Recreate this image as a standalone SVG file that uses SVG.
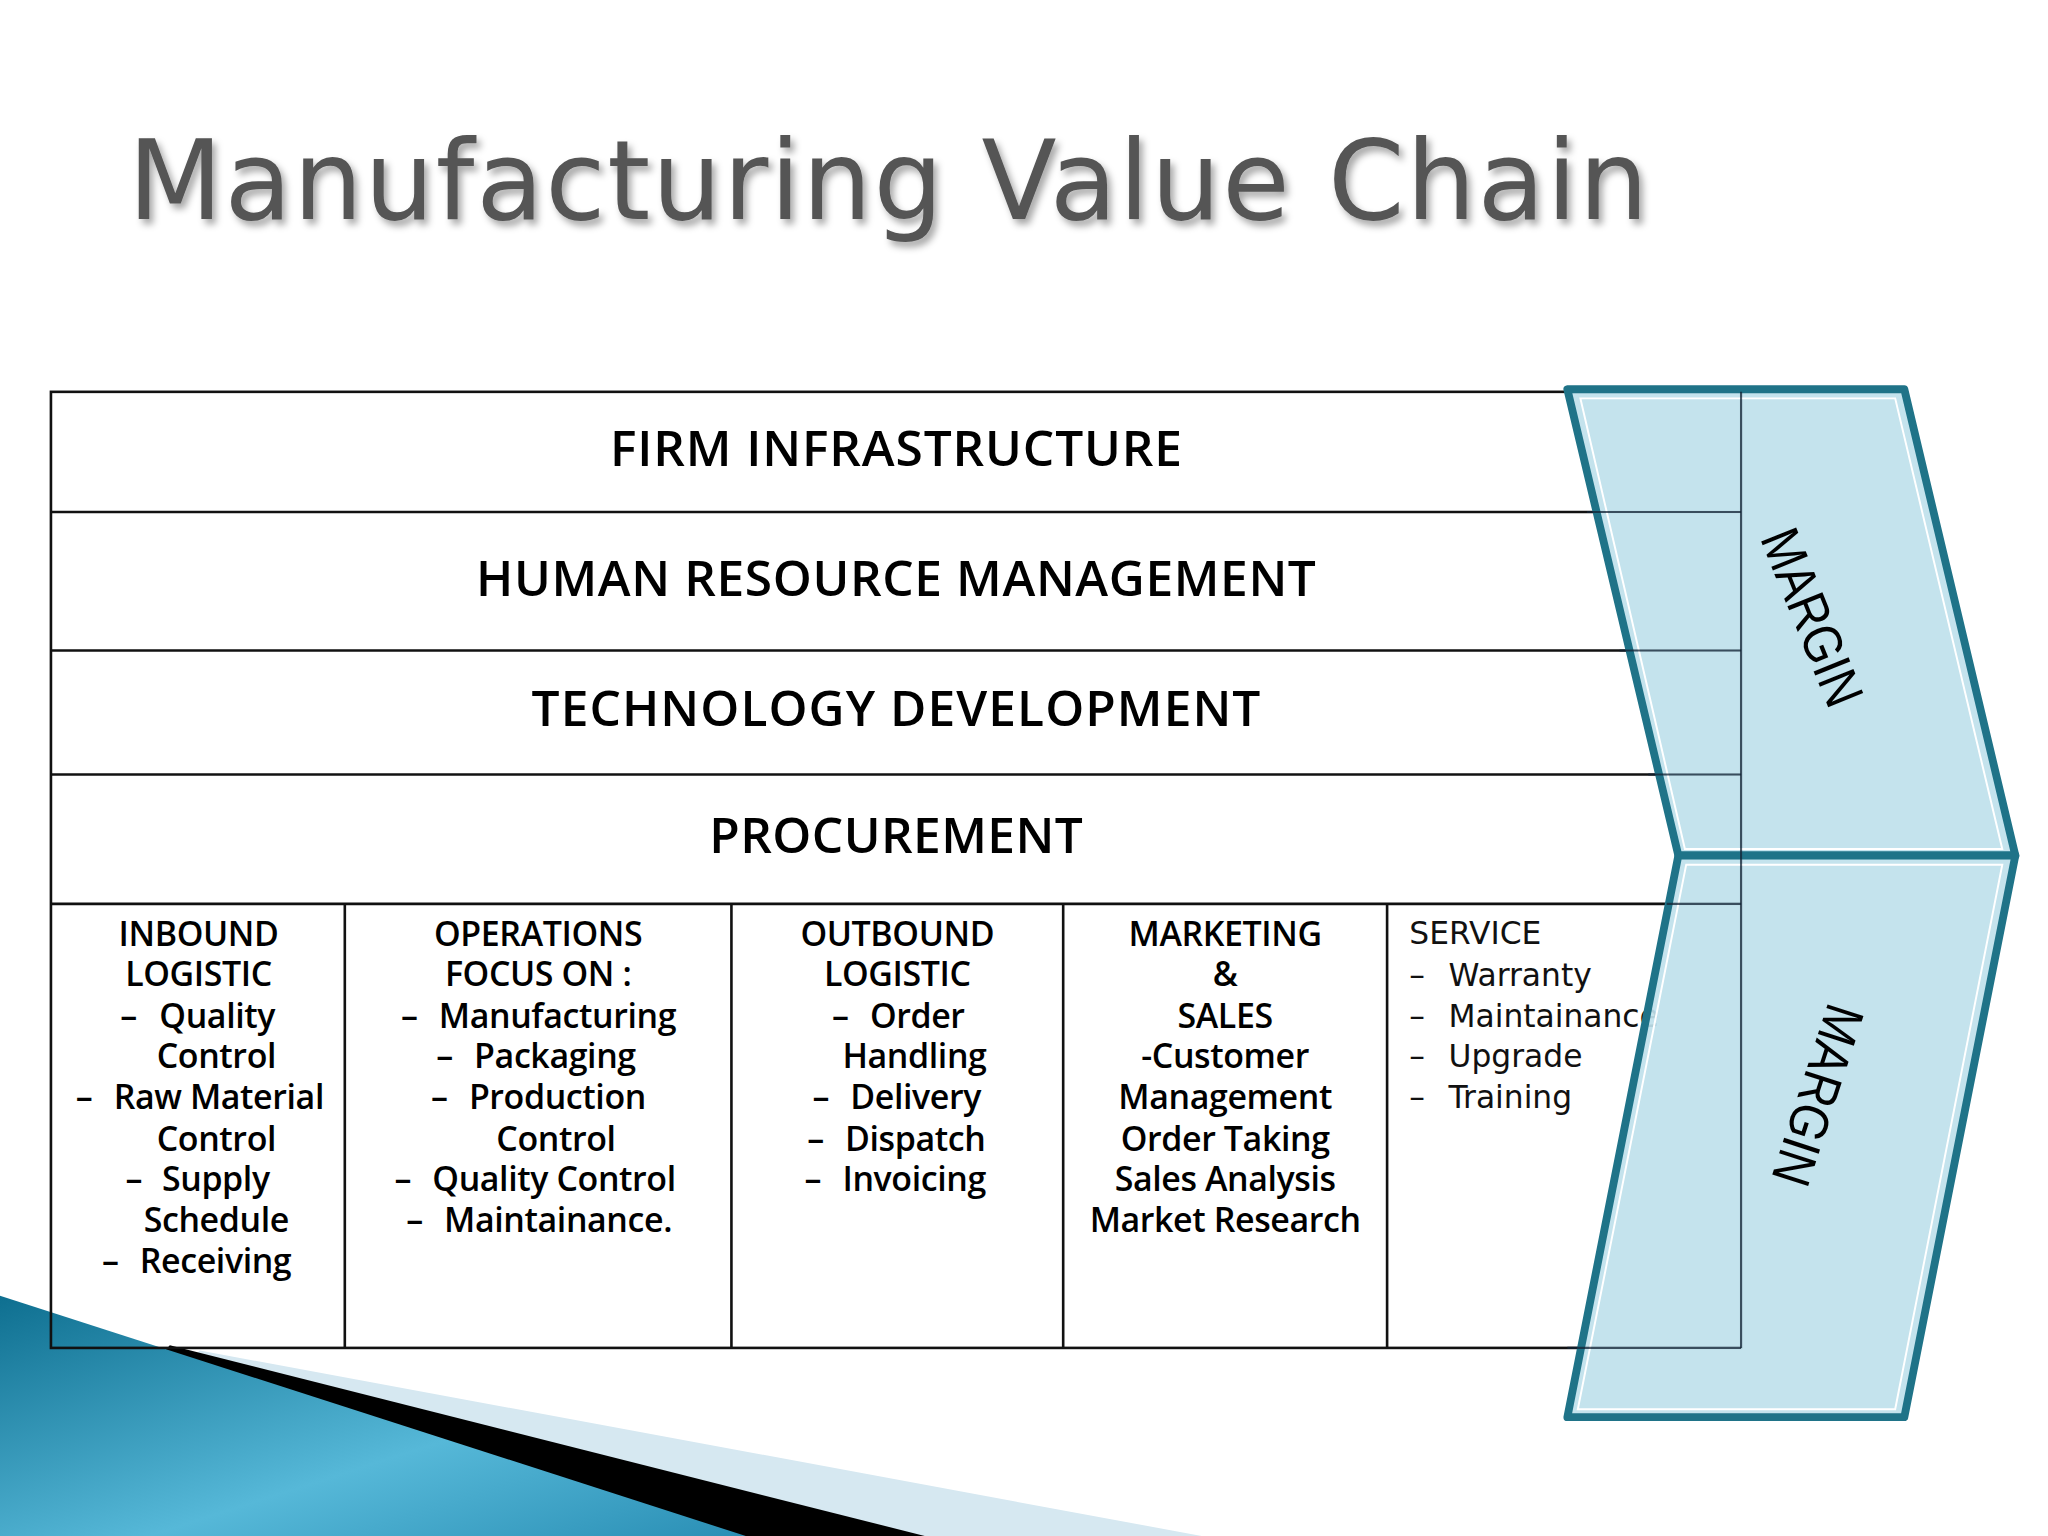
<svg xmlns="http://www.w3.org/2000/svg" width="2048" height="1536" viewBox="0 0 2048 1536">
<defs>
<style>
.ln{stroke:#111;stroke-width:2;fill:none}
.thru{stroke:#123;stroke-width:1.6;stroke-opacity:0.75}
.row{font-family:"Open Sans","Noto Sans",sans-serif;font-size:38px;font-weight:600;fill:#000;text-anchor:middle}
.c{font-family:"Open Sans","Noto Sans",sans-serif;font-size:26px;font-weight:600;fill:#000;letter-spacing:-0.3px}
.m{text-anchor:middle}
.sv{font-family:"DejaVu Sans",sans-serif;font-size:24px;fill:#111}
.chev{fill:#bfe1eb;fill-opacity:0.92;stroke:#1f7388;stroke-width:6;stroke-linejoin:round}
.inner{fill:none;stroke:#fff;stroke-width:1.5}
.mg{font-family:"Liberation Sans Narrow","Liberation Sans",sans-serif;font-size:42px;fill:#000;text-anchor:middle}
</style>
<linearGradient id="bl" x1="0" y1="0" x2="1" y2="1">
<stop offset="0" stop-color="#0e6f90"/><stop offset="0.6" stop-color="#56b8d8"/><stop offset="1" stop-color="#2a8fb5"/>
</linearGradient>
<filter id="sh"><feDropShadow dx="3" dy="4" stdDeviation="3" flood-color="#000" flood-opacity="0.35"/></filter>
</defs>
<rect width="2048" height="1536" fill="#fff"/>
<g transform="scale(1.30612)">
<g id="swoosh">
<polygon points="153,1034 920,1176 0,1176" fill="#d6e8f1"/>
<polygon points="130,1030 708,1176 0,1176" fill="#000"/>
<polygon points="0,992 571,1176 0,1176" fill="url(#bl)"/>
</g>
<text id="title" x="98" y="168" font-family="DejaVu Sans,sans-serif" font-size="84" fill="#555" textLength="1164" filter="url(#sh)">Manufacturing Value Chain</text>
<g id="table">
<rect x="39" y="300" width="1294" height="732" fill="#fff" class="ln"/>
<line class="ln" x1="39" y1="392" x2="1333" y2="392"/>
<line class="ln" x1="39" y1="498" x2="1333" y2="498"/>
<line class="ln" x1="39" y1="593" x2="1333" y2="593"/>
<line class="ln" x1="39" y1="692" x2="1333" y2="692"/>
<line class="ln" x1="264" y1="692" x2="264" y2="1032"/>
<line class="ln" x1="560" y1="692" x2="560" y2="1032"/>
<line class="ln" x1="814" y1="692" x2="814" y2="1032"/>
<line class="ln" x1="1062" y1="692" x2="1062" y2="1032"/>
</g>
<g id="support">
<text class="row" x="686" y="357" textLength="438">FIRM INFRASTRUCTURE</text>
<text class="row" x="686" y="456" textLength="643">HUMAN RESOURCE MANAGEMENT</text>
<text class="row" x="686" y="556" textLength="558">TECHNOLOGY DEVELOPMENT</text>
<text class="row" x="686" y="653" textLength="286">PROCUREMENT</text>
</g>
<g id="inbound" class="c">
<text class="m" x="152" y="724">INBOUND</text>
<text class="m" x="152" y="755">LOGISTIC</text>
<text x="92" y="787">–<tspan x="122">Quality</tspan></text>
<text x="120" y="818">Control</text>
<text x="58" y="849">–<tspan x="87">Raw Material</tspan></text>
<text x="120" y="881">Control</text>
<text x="96" y="912">–<tspan x="124">Supply</tspan></text>
<text x="110" y="943">Schedule</text>
<text x="78" y="975">–<tspan x="107">Receiving</tspan></text>
</g>
<g id="operations" class="c">
<text class="m" x="412" y="724">OPERATIONS</text>
<text class="m" x="412" y="755">FOCUS ON :</text>
<text x="307" y="787">–<tspan x="336">Manufacturing</tspan></text>
<text x="334" y="818">–<tspan x="363">Packaging</tspan></text>
<text x="330" y="849">–<tspan x="359">Production</tspan></text>
<text x="380" y="881">Control</text>
<text x="302" y="912">–<tspan x="331">Quality Control</tspan></text>
<text x="311" y="943">–<tspan x="340">Maintainance.</tspan></text>
</g>
<g id="outbound" class="c">
<text class="m" x="687" y="724">OUTBOUND</text>
<text class="m" x="687" y="755">LOGISTIC</text>
<text x="637" y="787">–<tspan x="666">Order</tspan></text>
<text x="645" y="818">Handling</text>
<text x="622" y="849">–<tspan x="651">Delivery</tspan></text>
<text x="618" y="881">–<tspan x="647">Dispatch</tspan></text>
<text x="616" y="912">–<tspan x="645">Invoicing</tspan></text>
</g>
<g id="marketing" class="c m">
<text x="938" y="724">MARKETING</text>
<text x="938" y="755">&amp;</text>
<text x="938" y="787">SALES</text>
<text x="938" y="818">-Customer</text>
<text x="938" y="849">Management</text>
<text x="938" y="881">Order Taking</text>
<text x="938" y="912">Sales Analysis</text>
<text x="938" y="943">Market Research</text>
</g>
<g id="service" class="sv">
<text x="1079" y="723">SERVICE</text>
<text x="1079" y="755">–<tspan x="1109">Warranty</tspan></text>
<text x="1079" y="786">–<tspan x="1109">Maintainance</tspan></text>
<text x="1079" y="817">–<tspan x="1109">Upgrade</tspan></text>
<text x="1079" y="848">–<tspan x="1109">Training</tspan></text>
</g>
<g id="margin-top">
<polygon class="chev" points="1200,298 1458,298 1543,655 1285,655"/>
<polygon class="inner" points="1210,305 1451,305 1533,650 1290,650"/>
<text class="mg" transform="translate(1374,478) rotate(68) scale(0.85,1)">MARGIN</text>
</g>
<g id="margin-bottom">
<polygon class="chev" points="1285,655 1543,655 1458,1085 1200,1085"/>
<polygon class="inner" points="1291,662 1533,662 1451,1079 1208,1079"/>
<text class="mg" transform="translate(1378,834) rotate(108) scale(0.85,1)">MARGIN</text>
</g>
<g id="through">
<line class="thru" x1="1333" y1="300" x2="1333" y2="1032"/>
<line class="thru" x1="1200" y1="1032" x2="1333" y2="1032"/>
<line class="thru" x1="1215" y1="392" x2="1333" y2="392"/>
<line class="thru" x1="1240" y1="498" x2="1333" y2="498"/>
<line class="thru" x1="1262" y1="593" x2="1333" y2="593"/>
<line class="thru" x1="1276" y1="692" x2="1333" y2="692"/>
</g>
</g>
</svg>
